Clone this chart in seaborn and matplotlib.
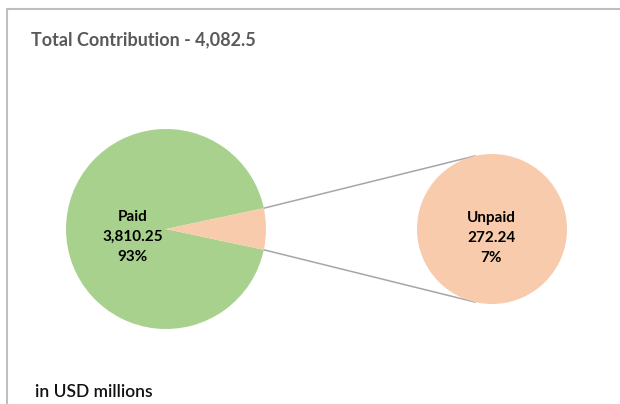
import numpy as np
import matplotlib
matplotlib.use("Agg")
import matplotlib.pyplot as plt
import seaborn as sns

# data
labels = ["Paid", "Unpaid"]
values = [3810.25, 272.24]
pcts = ["93%", "7%"]
total_label = "4,082.5"

green = "#A9D18E"
peach = "#F8CBAD"

sns.set_theme(style="white")
plt.rcParams["font.family"] = ["Lato", "DejaVu Sans"]

fig = plt.figure(figsize=(6.2, 4.04), dpi=100)
ax = fig.add_axes([0, 0, 1, 1])

total = sum(values)
half = values[1] / total * 180.0
wp = dict(linewidth=0, edgecolor="none")

# main pie
big_c, big_r = (166, 175), 100
ax.pie(values, colors=[green, peach], startangle=half, counterclock=True,
       center=big_c, radius=big_r, frame=True, wedgeprops=wp)

# secondary pie
small_c, small_r = (492, 175), 75
ax.pie([values[1]], colors=[peach], center=small_c, radius=small_r, frame=True, wedgeprops=wp)
ax.set_xlim(0, 620)
ax.set_ylim(0, 404)
ax.set_aspect("equal")
ax.axis("off")

# connector lines
for sgn in (1, -1):
    a = np.deg2rad(sgn * half)
    x0 = big_c[0] + big_r * np.cos(a)
    y0 = big_c[1] + big_r * np.sin(a)
    b = np.deg2rad(sgn * 103)
    x1 = small_c[0] + small_r * np.cos(b)
    y1 = small_c[1] + small_r * np.sin(b)
    ax.plot([x0, x1], [y0, y1], color="#A6A6A6", lw=1.1, zorder=0)

# labels
ax.text(133, 404 - 237, f"{labels[0]}\n{values[0]:,.2f}\n{pcts[0]}", ha="center", va="center",
        fontsize=11, fontweight="bold", color="black", linespacing=1.55)
ax.text(491, 404 - 238, f"{labels[1]}\n{values[1]:,.2f}\n{pcts[1]}", ha="center", va="center",
        fontsize=11, fontweight="bold", color="black", linespacing=1.55)

fig.text(31 / 620, 1 - 40 / 404, f"Total Contribution - {total_label}", ha="left", va="center",
         fontsize=13, fontweight="bold", color="#595959")
fig.text(35 / 620, 1 - 392 / 404, "in USD millions", ha="left", va="center",
         fontsize=12.5, fontweight="semibold", color="#111111")

# frame border
fig.add_artist(plt.Line2D([7 / 620, 1], [1 - 9 / 404] * 2, color="#BFBFBF", lw=1.5, transform=fig.transFigure))
fig.add_artist(plt.Line2D([7 / 620] * 2, [0, 1 - 9 / 404], color="#BFBFBF", lw=1.5, transform=fig.transFigure))

fig.savefig("out.png", dpi=100, facecolor="white")
